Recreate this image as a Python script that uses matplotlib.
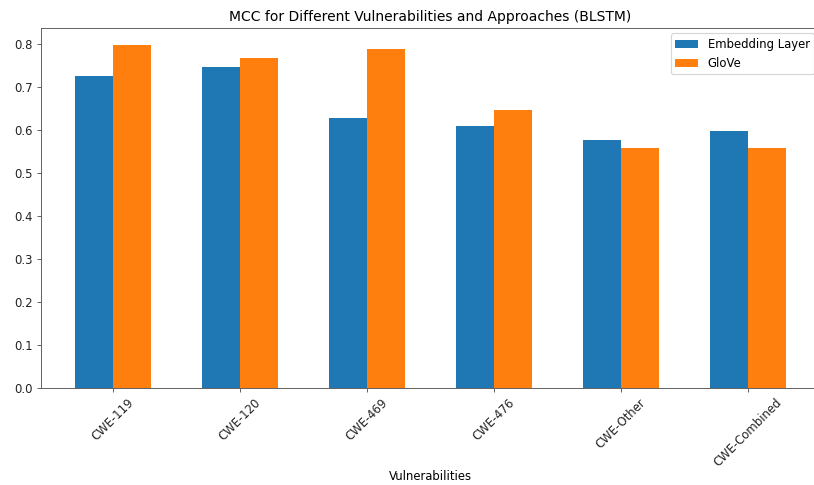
import matplotlib
matplotlib.use("Agg")
import matplotlib.pyplot as plt
import numpy as np

categories = ["CWE-119", "CWE-120", "CWE-469", "CWE-476", "CWE-Other", "CWE-Combined"]
embedding_layer = [0.727, 0.748, 0.629, 0.610, 0.578, 0.597]
glove = [0.799, 0.769, 0.790, 0.646, 0.559, 0.559]
series_labels = ["Embedding Layer", "GloVe"]

W, H, DPI = 814, 485, 83.4
fig = plt.figure(figsize=(W / DPI, H / DPI), dpi=DPI)
ax = fig.add_axes([41 / W, 1 - 388 / H, 779 / W, (388 - 27.5) / H])

x = np.arange(len(categories))
width = 0.3
ax.bar(x - width / 2, embedding_layer, width, label=series_labels[0], color="#1f77b4")
ax.bar(x + width / 2, glove, width, label=series_labels[1], color="#ff7f0e")

ax.set_xticks(x)
ax.set_xticklabels(categories, rotation=45)
ax.set_xlim(-0.568, len(categories) - 1 + 0.568)
ax.set_xlabel("Vulnerabilities", labelpad=1)
ax.set_title("MCC for Different Vulnerabilities and Approaches (BLSTM)")
ax.legend(loc="upper right")

edge = "#5a5a5a"
for name, spine in ax.spines.items():
    spine.set_color(edge)
ax.spines["right"].set_visible(False)
ax.tick_params(colors=edge, labelcolor="#222222")

fig.savefig("out.png", dpi=DPI)
